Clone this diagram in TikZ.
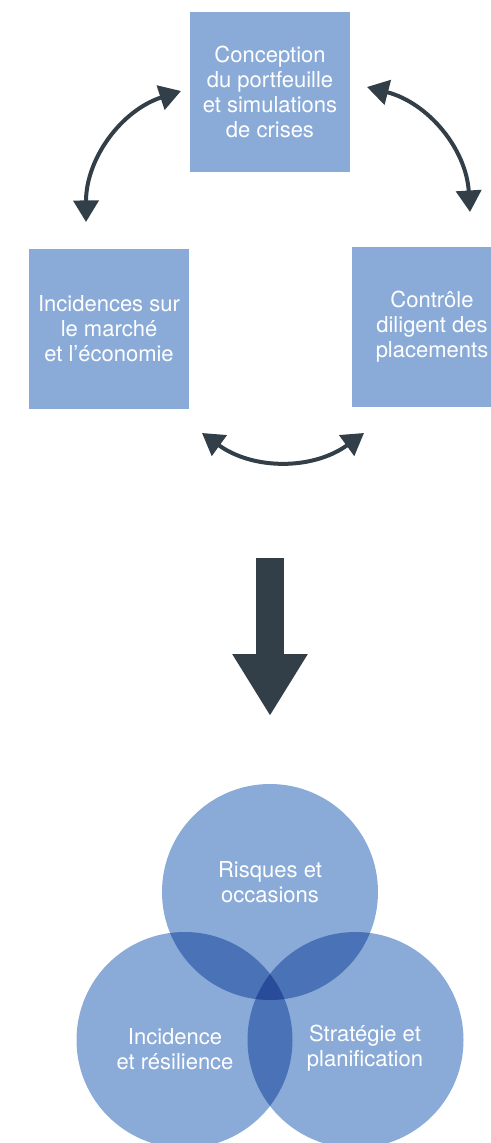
\documentclass[tikz,border=0pt]{standalone}
\usepackage{fontspec}
\setmainfont{TeX Gyre Heros}
\usepackage{tikz}
\usetikzlibrary{arrows.meta}
\definecolor{boxblue}{HTML}{8AABD8}
\definecolor{slate}{HTML}{333F48}

\begin{document}
\begin{tikzpicture}[x=0.5pt,y=-0.5pt,
    every node/.style={inner sep=0,outer sep=0},
    stage/.style={fill=boxblue,minimum size=80pt,text=white,align=center,
      font=\fontsize{11}{12.5}\selectfont},
    venn/.style={circle,fill=boxblue,minimum size=108pt},
    vennlabel/.style={text=white,align=center,font=\fontsize{11}{12.5}\selectfont},
    linkarrow/.style={line width=2pt,draw=slate,
      {Triangle[length=10.75pt,width=12.5pt]}-{Triangle[length=10.75pt,width=12.5pt]}}]
    \useasboundingbox (0,0) rectangle (491,1143);

    %% the three stages
    \node(design)[stage] at (270,92) {Conception\\du portfeuille\\et simulations\\de crises};
    \node(market)[stage] at (109,329) {Incidences sur\\le marché\\et l’économie};
    \node(control)[stage] at (432,327) {Contrôle\\diligent des\\placements};

    %% arrows round the cycle
    \coordinate (c1) at (86,222);
    \coordinate (c2) at (181,91);
    \coordinate (c3) at (367,87);
    \coordinate (c4) at (470,212);
    \coordinate (c5) at (364,433);
    \coordinate (c6) at (202,433);
    \draw [linkarrow] (c1) to[bend left=36] (c2);
    \draw [linkarrow] (c3) to[bend left=36] (c4);
    \draw [linkarrow] (c6) to[bend right=36] (c5);

    %% big arrow down
    \coordinate (flowtop) at (270,558);
    \coordinate (flowtip) at (270,716);
    \draw [line width=14.3pt,slate,-{Triangle[length=31pt,width=35.5pt]}] (flowtop) -- (flowtip);

    %% venn
    \begin{scope}[blend group=multiply]
      \node(risk)[venn] at (270,892) {};
      \node(impact)[venn] at (184.5,1040) {};
      \node(plan)[venn] at (355.5,1040) {};
    \end{scope}
    \node[vennlabel] at ([yshift=5pt]risk.center) {Risques et\\occasions};
    \node[vennlabel] at ([xshift=-4.75pt,yshift=-4.5pt]impact.center) {Incidence\\et résilience};
    \node[vennlabel] at ([xshift=4.75pt,yshift=-4.25pt]plan.center) {Stratégie et\\planification};
\end{tikzpicture}
\end{document}
